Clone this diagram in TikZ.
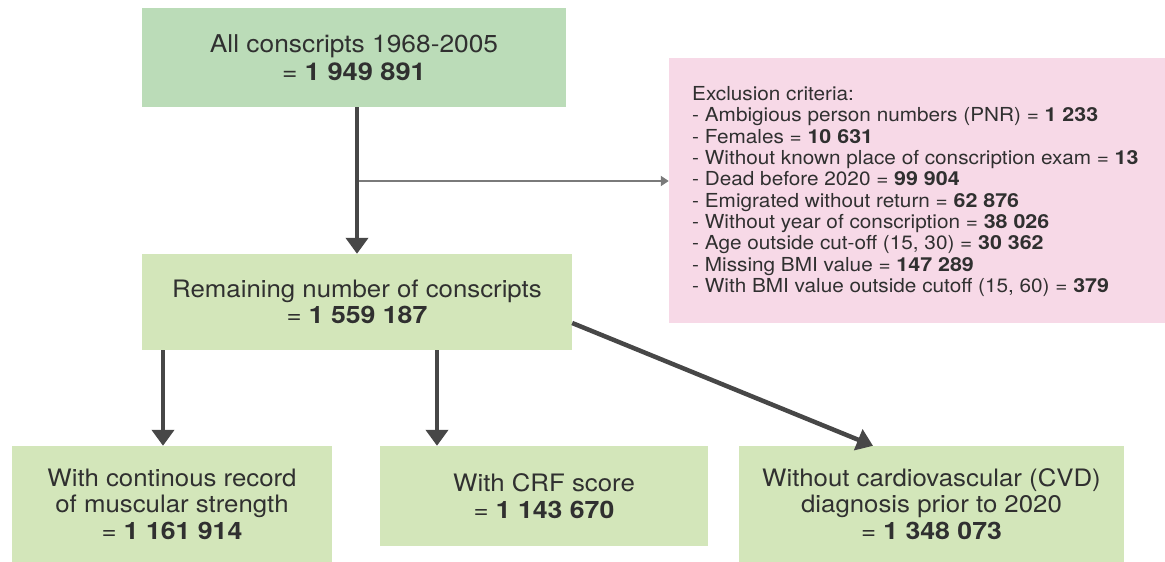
\documentclass[tikz,border=0pt]{standalone}
\usepackage{fontspec}
\setmainfont[FakeStretch=1.075,BoldFeatures={FakeStretch=1.11}]{TeX Gyre Heros}
\usetikzlibrary{arrows.meta}
\definecolor{topgreen}{HTML}{BBDCB8}
\definecolor{boxgreen}{HTML}{D3E6BA}
\definecolor{boxpink}{HTML}{F7D9E7}
\definecolor{arrowdark}{HTML}{474747}
\definecolor{arrowgray}{HTML}{7A7A7A}
\definecolor{txt}{HTML}{303030}
\tikzset{
  box/.style={rectangle, inner sep=0pt, align=center, text=txt, font=\fontsize{24}{26.5}\selectfont},
  bigarrow/.style={draw=arrowdark, line width=4.5pt, -{Triangle[length=16pt,width=22pt]}},
  thinarrow/.style={draw=arrowgray, line width=2pt, -{Triangle[length=8pt,width=10pt]}}
}
\begin{document}
\begin{tikzpicture}[x=1pt,y=-1pt]
\useasboundingbox (0,0) rectangle (1165,562);
\node[box, fill=topgreen, minimum width=424pt, minimum height=99pt, font=\fontsize{24.5}{28}\selectfont] (top) at (354,57.5) {All conscripts 1968-2005\\= \textbf{1 949 891}};
\node[box, fill=boxgreen, minimum width=430pt, minimum height=96pt] (rem) at (357,302) {Remaining number of conscripts\\= \textbf{1 559 187}};
\node[box, fill=boxpink, minimum width=496pt, minimum height=265pt] (pink) at (917,190.5) {};
\node[anchor=west, inner sep=0pt, align=left, text=txt, font=\fontsize{19.3}{21.3}\selectfont] (crit) at (692,191.5) {Exclusion criteria:\\
- Ambigious person numbers (PNR) = \textbf{1 233}\\
- Females = \textbf{10 631}\\
- Without known place of conscription exam = \textbf{13}\\
- Dead before 2020 = \textbf{99 904}\\
- Emigrated without return = \textbf{62 876}\\
- Without year of conscription = \textbf{38 026}\\
- Age outside cut-off (15, 30) = \textbf{30 362}\\
- Missing BMI value = \textbf{147 289}\\
- With BMI value outside cutoff (15, 60) = \textbf{379}};
\node[box, fill=boxgreen, minimum width=320pt, minimum height=116pt] (left) at (172,504) {With continous record\\of muscular strength\\= \textbf{1 161 914}};
\node[box, fill=boxgreen, minimum width=328pt, minimum height=100pt] (mid) at (544,496) {With CRF score\\= \textbf{1 143 670}};
\node[box, fill=boxgreen, minimum width=385pt, minimum height=116pt] (right) at (931.5,504) {Without cardiovascular (CVD)\\diagnosis prior to 2020\\= \textbf{1 348 073}};
\coordinate (junc) at (357,181);
\draw[thinarrow] (junc) -- (junc -| pink.west);
\draw[bigarrow] ([xshift=3pt]top.south) -- (rem.north);
\draw[bigarrow] ([xshift=-194pt]rem.south) -- ([xshift=-9pt]left.north);
\draw[bigarrow] ([xshift=80pt]rem.south) -- ([xshift=-107pt]mid.north);
\draw[bigarrow] ([yshift=-21pt]rem.east) -- ([xshift=-58.5pt]right.north);
\end{tikzpicture}
\end{document}
